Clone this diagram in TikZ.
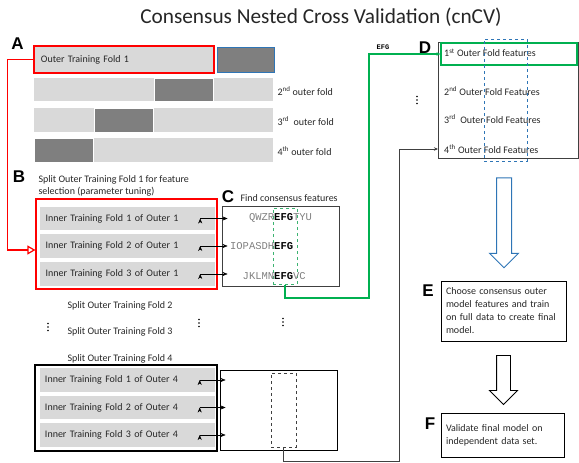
\documentclass[tikz,border=0pt]{standalone}
\usepackage{fontspec}
\setmainfont{Carlito}
\newfontfamily\panelfont{Liberation Sans}
\newfontfamily\seqfont{Liberation Mono}
\usepackage{xcolor}
\usepackage{tikz}
\usetikzlibrary{arrows.meta,calc,shapes.arrows}

\definecolor{barlight}{HTML}{D9D9D9}
\definecolor{bardark}{HTML}{7F7F7F}
\definecolor{foldred}{HTML}{FF0000}
\definecolor{foldblue}{HTML}{2E75B6}
\definecolor{consgreen}{HTML}{00B050}
\definecolor{dashgreen}{HTML}{3CB371}
\definecolor{boxgray}{HTML}{404040}

\tikzset{
  txt/.style={font=\fontsize{10}{12}\selectfont, text=black!85},
  panel/.style={font=\panelfont\bfseries\fontsize{17}{17}\selectfont, inner sep=0pt},
  lightbar/.style={fill=barlight, inner sep=0pt},
  darkbar/.style={fill=bardark, draw=white, line width=0.6pt, inner sep=0pt},
  innerbar/.style={txt, fill=barlight, minimum width=175, minimum height=23.5, text width=164, inner xsep=5.5pt, align=left},
  seqtext/.style={anchor=base west, inner sep=0pt, text=gray, font=\seqfont\fontsize{10.5}{12}\selectfont},
  dtext/.style={txt, anchor=west, inner xsep=6pt},
  feed/.style={-{Stealth[length=5pt,width=4pt]}, black},
  dotstack/.pic={\foreach \k in {-3.5, 0, 3.5} \fill (0, \k) circle (0.8);}
}

\begin{document}
\begin{tikzpicture}[x=1pt, y=-1pt]
            \useasboundingbox (0, 0) rectangle (579, 463);
            \node (title) at (321, 17) [font=\fontsize{21.3}{24}\selectfont, text=black!85] {Consensus Nested Cross Validation (cnCV)};
            % A: outer folds
            \node (la) at (17.5, 44) [panel] {A};
            \node (outer1) at (124, 59.5) [lightbar, txt, draw=foldred, line width=1.2pt, minimum width=180, minimum height=27, text width=166, inner xsep=7pt, align=left] {Outer Training Fold 1};
            \node (test1) at (246, 59.5) [darkbar, draw=foldblue, line width=1pt, minimum width=57, minimum height=25] {};
            \node (outer2) at (153.5, 89.5) [lightbar, minimum width=239, minimum height=23] {};
            \node (test2) at (183.5, 89.5) [darkbar, minimum width=59, minimum height=23] {};
            \node (outer3) at (153.5, 120) [lightbar, minimum width=239, minimum height=24] {};
            \node (test3) at (123.5, 120) [darkbar, minimum width=59, minimum height=24] {};
            \node (outer4) at (153.5, 150) [lightbar, minimum width=239, minimum height=24] {};
            \node (test4) at (63.5, 150) [darkbar, minimum width=59, minimum height=24] {};
            \node (fold2) at (274, 91) [txt, anchor=west] {2\textsuperscript{nd} outer fold};
            \node (fold3) at (274, 121) [txt, anchor=west] {3\textsuperscript{rd}\ \ outer fold};
            \node (fold4) at (274, 151) [txt, anchor=west] {4\textsuperscript{th} outer fold};
            % B: inner folds of outer 1
            \node (lb) at (19, 177) [panel] {B};
            \node (splitb) at (35, 186) [txt, anchor=west, align=left] {Split Outer Training Fold 1 for feature\\selection (parameter tuning)};
            \node (bgroup) at (126.5, 244) [draw=foldred, line width=1.2pt, minimum width=181, minimum height=90] {};
            \node (in11) at (127.5, 218.5) [innerbar] {Inner Training Fold 1 of Outer 1};
            \node (in12) at (127.5, 246) [innerbar] {Inner Training Fold 2 of Outer 1};
            \node (in13) at (127.5, 274) [innerbar] {Inner Training Fold 3 of Outer 1};
            % C: consensus features
            \node (lc) at (228, 197) [panel] {C};
            \node (findc) at (237, 198) [txt, anchor=west] {Find consensus features};
            \node (cbox1) at (280.5, 246) [draw=boxgray, line width=0.9pt, minimum width=117, minimum height=80] {};
            \node (gdash) at (285, 246) [draw=dashgreen, dashed, line width=1pt, minimum width=24, minimum height=76] {};
            \node (seq1) at (248.8, 220.5) [seqtext] {QWZR\textbf{\color{black}EFG}TYU};
            \node (seq2) at (229.9, 249.5) [seqtext] {IOPASDH\textbf{\color{black}EFG}};
            \node (seq3) at (242.5, 279.5) [seqtext] {JKLMN\textbf{\color{black}EFG}VC};
            \draw [feed] ($(in11.east)+(-15,0)$) edge ($(in11.east -| cbox1.west)+(6,0)$);
            \draw [feed] ($(in12.east)+(-15,0)$) edge ($(in12.east -| cbox1.west)+(6,0)$);
            \draw [feed] ($(in13.east)+(-15,0)$) edge ($(in13.east -| cbox1.west)+(6,0)$);
            % other outer folds
            \node (split2) at (64, 306) [txt, anchor=west] {Split Outer Training Fold 2};
            \node (split3) at (64, 332) [txt, anchor=west] {Split Outer Training Fold 3};
            \node (split4) at (64, 359) [txt, anchor=west] {Split Outer Training Fold 4};
            \pic at (48, 327) {dotstack};
            \pic at (199, 323) {dotstack};
            \pic at (283, 322) {dotstack};
            \node (kgroup) at (126, 408) [draw, line width=1.2pt, minimum width=182, minimum height=86] {};
            \node (in41) at (127, 380) [innerbar] {Inner Training Fold 1 of Outer 4};
            \node (in42) at (127, 407.5) [innerbar] {Inner Training Fold 2 of Outer 4};
            \node (in43) at (127, 435) [innerbar] {Inner Training Fold 3 of Outer 4};
            \node (cbox4) at (278.5, 410) [draw, line width=0.9pt, minimum width=117, minimum height=80] {};
            \node (kdash) at (283.5, 410) [draw=boxgray, dashed, line width=1pt, minimum width=25, minimum height=74] {};
            \draw [feed] ($(in41.east)+(-15,0)$) edge ($(in41.east -| cbox4.west)+(6,0)$);
            \draw [feed] ($(in42.east)+(-15,0)$) edge ($(in42.east -| cbox4.west)+(6,0)$);
            \draw [feed] ($(in43.east)+(-15,0)$) edge ($(in43.east -| cbox4.west)+(6,0)$);
            % D: outer fold features
            \node (ld) at (425, 48) [panel] {D};
            \node (efg) at (383, 47) [inner sep=0pt, font=\seqfont\bfseries\fontsize{7}{7}\selectfont] {EFG};
            \node (dbox) at (508.25, 100.5) [draw=boxgray, line width=0.9pt, minimum width=140.5, minimum height=116] {};
            \node (d1box) at (509, 54) [draw=consgreen, line width=1.2pt, minimum width=136, minimum height=22] {};
            \node (d1) at (438, 53) [dtext] {1\textsuperscript{st} Outer Fold features};
            \node (d2) at (438, 91) [dtext] {2\textsuperscript{nd} Outer Fold Features};
            \node (d3) at (438, 119) [dtext] {3\textsuperscript{rd}\ \ Outer Fold Features};
            \node (d4) at (438, 149) [dtext] {4\textsuperscript{th} Outer Fold Features};
            \node (bdash) at (505.5, 100) [draw=foldblue, dashed, line width=1pt, minimum width=43, minimum height=122] {};
            \pic at (417, 100) {dotstack};
            % connectors
            \coordinate (gturn) at (369, 298);
            \coordinate (kturn) at (399, 461);
            \draw [foldred, line width=1.2pt, -{Triangle[open, length=8pt, width=9pt]}] (outer1.west) -- ++(-26, 0) |- ([yshift=-6pt]bgroup.west);
            \draw [consgreen, line width=1.2pt, -{Stealth[length=4pt,width=3.5pt]}] (gdash.south) |- (gturn) |- (d1box.west);
            \draw [boxgray, line width=0.9pt, -{Stealth[length=4pt,width=3.5pt]}] (kdash.south) |- (kturn) |- (d4.west);
            % E and F
            \node (arr1) at (504, 219) [single arrow, draw=foldblue, line width=1pt, shape border rotate=270, minimum height=90, inner sep=7pt, single arrow head extend=7pt, single arrow tip angle=90] {};
            \node (le) at (428, 291) [panel] {E};
            \node (ebox) at (503.5, 311) [txt, draw, line width=0.9pt, minimum width=125, minimum height=60, text width=115, inner xsep=5pt, align=left, font=\fontsize{10}{13}\selectfont] {Choose consensus outer\\model features and train\\on full data to create final\\model.};
            \node (arr2) at (503.5, 376.5) [single arrow, draw, line width=0.9pt, shape border rotate=270, minimum height=49, inner sep=6.5pt, single arrow head extend=7pt, single arrow tip angle=90] {};
            \node (lf) at (430, 424) [panel] {F};
            \node (fbox) at (502.5, 435) [txt, draw, line width=0.9pt, minimum width=123, minimum height=44, text width=113, inner xsep=5pt, align=left, font=\fontsize{10}{13}\selectfont] {Validate final model on\\independent data set.};
        \end{tikzpicture}
\end{document}
